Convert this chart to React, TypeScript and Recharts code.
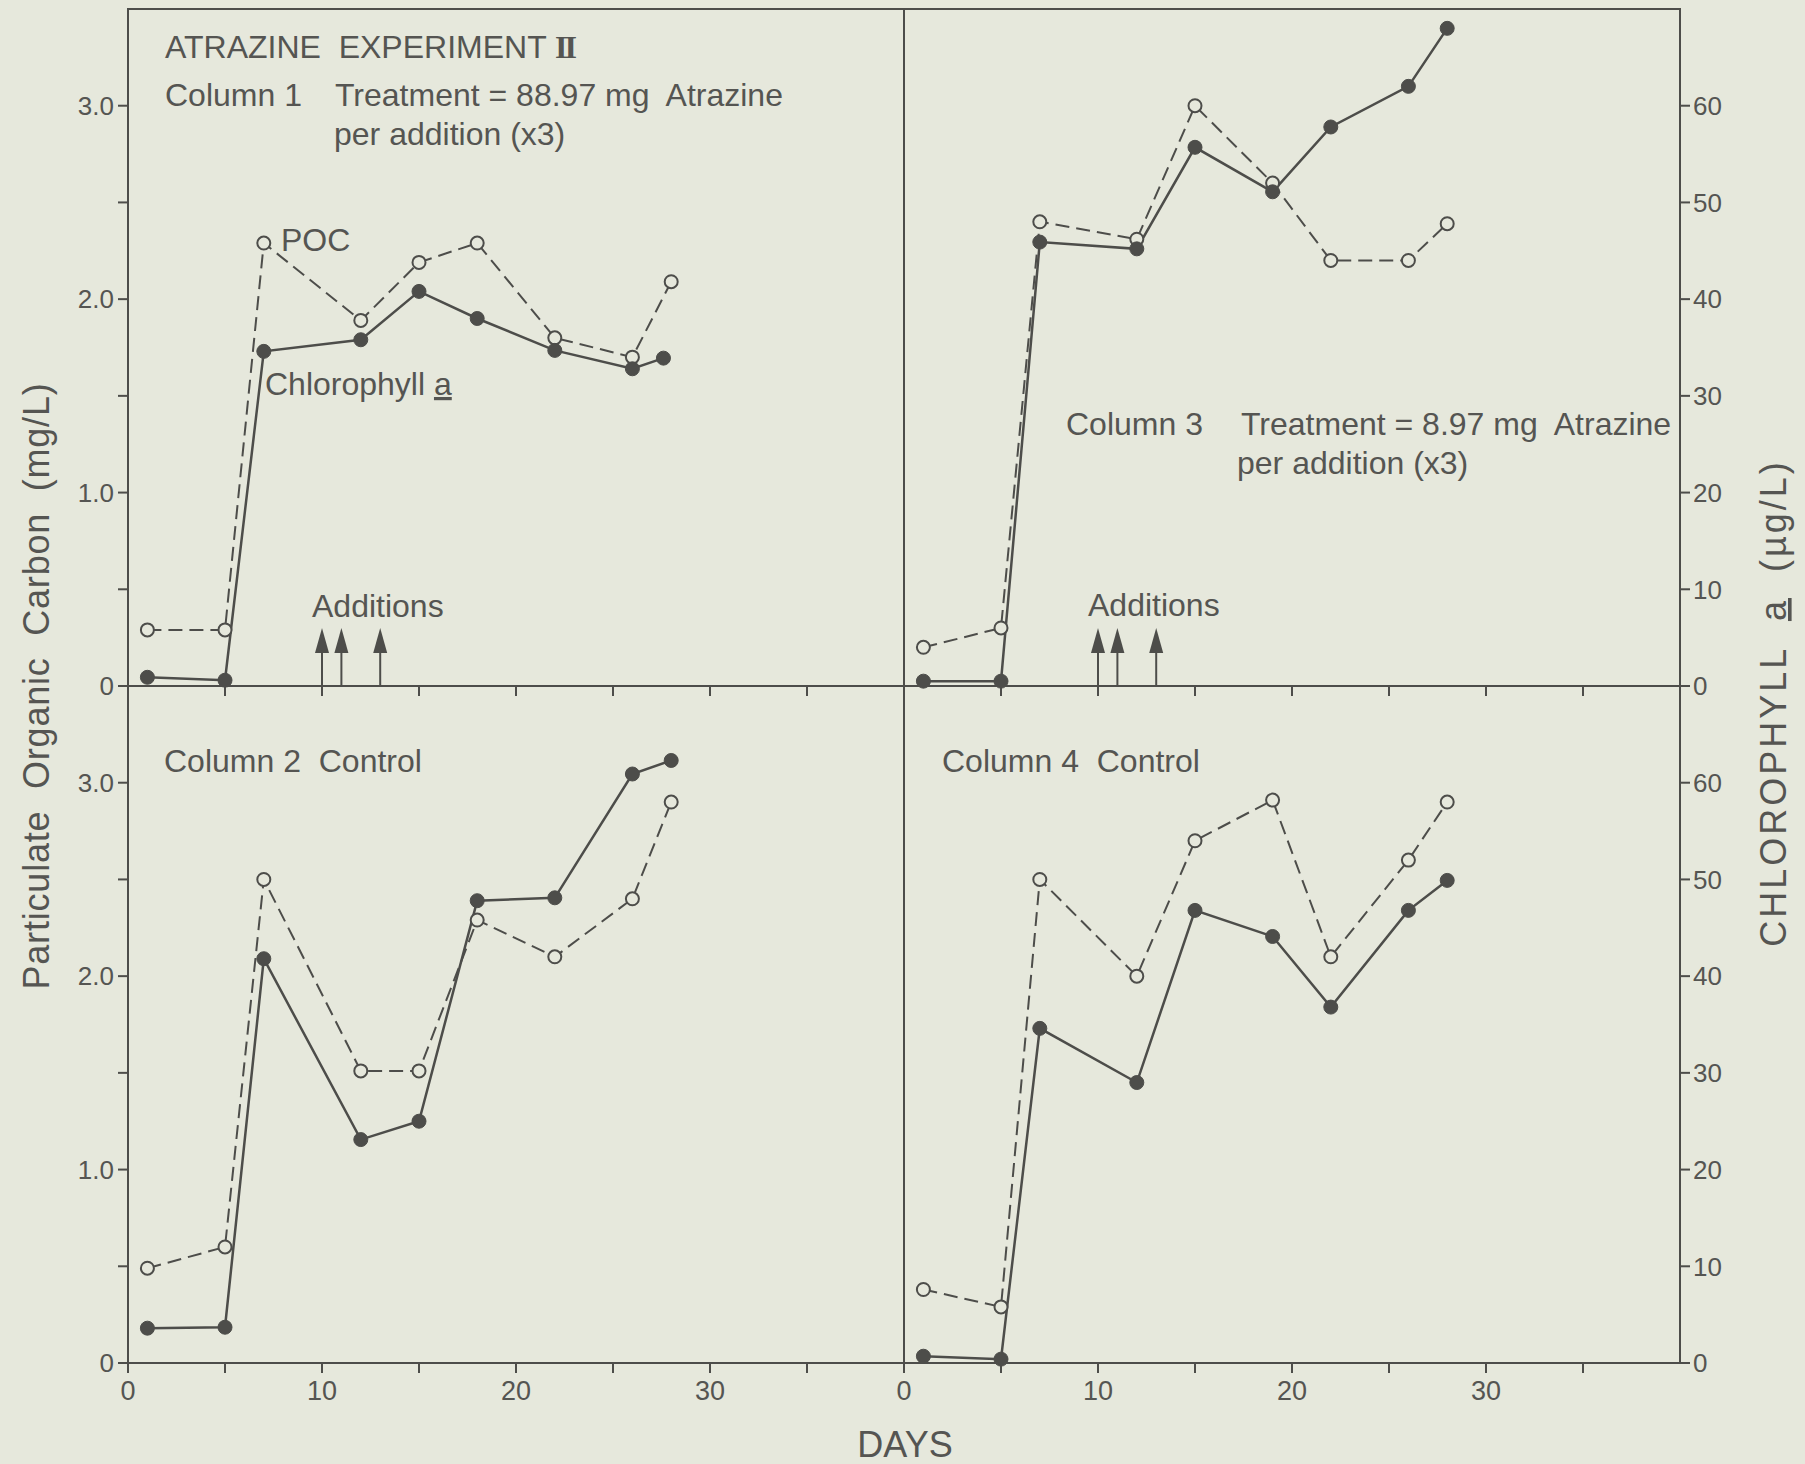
import { LineChart, Line, XAxis, YAxis, ReferenceArea, ReferenceLine } from 'recharts'

// sampling days (from the start of the experiment)
const daysA = [1, 5, 7, 12, 15, 18, 22, 26, 28]
const daysB = [1, 5, 7, 12, 15, 19, 22, 26, 28]
const col1ChlDays = [1, 5, 7, 12, 15, 18, 22, 26, 27.6]

// POC in mg/L, chlorophyll a in ug/L
const col1Poc = [0.29, 0.29, 2.29, 1.89, 2.19, 2.29, 1.8, 1.7, 2.09]
const col1Chl = [0.9, 0.6, 34.6, 35.8, 40.8, 38.0, 34.7, 32.8, 33.9]
const col2Poc = [0.49, 0.6, 2.5, 1.51, 1.51, 2.29, 2.1, 2.4, 2.9]
const col2Chl = [3.6, 3.7, 41.8, 23.1, 25.0, 47.8, 48.1, 60.9, 62.3]
const col3Poc = [0.2, 0.3, 2.4, 2.31, 3.0, 2.6, 2.2, 2.2, 2.39]
const col3Chl = [0.5, 0.5, 45.9, 45.2, 55.7, 51.1, 57.8, 62.0, 68.0]
const col4Poc = [0.38, 0.29, 2.5, 2.0, 2.7, 2.91, 2.1, 2.6, 2.9]
const col4Chl = [0.7, 0.4, 34.6, 29.0, 46.8, 44.1, 36.8, 46.8, 49.9]

const additionDays = [10, 11, 13]
const arrowTop = 0.3

const dayTicks = [0, 5, 10, 15, 20, 25, 30, 35]
const pocTicks = [0, 0.5, 1, 1.5, 2, 2.5, 3]
const chlTicks = [0, 10, 20, 30, 40, 50, 60]

const INK = '#4d4d4a'
const TEXT = '#555552'
const BG = '#e6e8dc'
const FONT = '"Liberation Sans", Arial, Helvetica, sans-serif'

const PLOT_W = 776
const PLOT_H = 677
const AXIS_W = 90
const GAP = 10
const X_AXIS_H = 60

const rows = (d: number[], v: number[]) => d.map((day, i) => ({ day, value: v[i] }))

function ArrowShape(props: any) {
  const { x1, y1, y2 } = props
  const yBase = Math.max(y1, y2)
  const yTip = Math.min(y1, y2)
  return (
    <g>
      <line x1={x1} y1={yBase} x2={x1} y2={yTip + 12} stroke={INK} strokeWidth={2} />
      <polygon points={`${x1},${yTip} ${x1 - 7},${yTip + 25} ${x1 + 7},${yTip + 25}`} fill={INK} />
    </g>
  )
}

const openDot = (p: any) => (
  <circle key={p.key ?? `o${p.index}`} cx={p.cx} cy={p.cy} r={6.5} fill={BG} stroke={INK} strokeWidth={2} />
)
const filledDot = (p: any) => (
  <circle key={p.key ?? `f${p.index}`} cx={p.cx} cy={p.cy} r={7} fill={INK} stroke={INK} strokeWidth={1} />
)

interface PanelProps {
  left: number
  top: number
  side: 'left' | 'right'
  dayLabels: boolean
  additions: boolean
  pocDays: number[]
  poc: number[]
  chlDays: number[]
  chl: number[]
}

function Panel({ left, top, side, dayLabels, additions, pocDays, poc, chlDays, chl }: PanelProps) {
  const isLeft = side === 'left'
  const margin = { top: GAP, bottom: 0, left: isLeft ? 0 : GAP, right: isLeft ? GAP : 0 }
  const tickStyle = { fill: TEXT, fontSize: 26, fontFamily: FONT }
  return (
    <div style={{ position: 'absolute', left: isLeft ? left - AXIS_W : left - GAP, top: top - GAP }}>
      <LineChart width={AXIS_W + PLOT_W + GAP} height={GAP + PLOT_H + X_AXIS_H} margin={margin}>
        <XAxis
          type="number"
          dataKey="day"
          domain={[0, 40]}
          ticks={dayTicks}
          height={X_AXIS_H}
          axisLine={false}
          tickSize={10}
          tickMargin={8}
          tickLine={{ stroke: INK, strokeWidth: 2 }}
          tick={{ ...tickStyle, fontSize: 27 }}
          tickFormatter={v => (dayLabels && v % 10 === 0 ? String(v) : '')}
        />
        <YAxis
          yAxisId="poc"
          orientation="left"
          domain={[0, 3.5]}
          ticks={pocTicks}
          hide={!isLeft}
          width={AXIS_W}
          axisLine={false}
          tickSize={10}
          tickMargin={4}
          tickLine={{ stroke: INK, strokeWidth: 2 }}
          tick={tickStyle}
          tickFormatter={v => (v === 0 ? '0' : Number.isInteger(v) ? v.toFixed(1) : '')}
        />
        <YAxis
          yAxisId="chl"
          orientation="right"
          domain={[0, 70]}
          ticks={chlTicks}
          hide={isLeft}
          width={AXIS_W}
          axisLine={false}
          tickSize={10}
          tickMargin={3}
          tickLine={{ stroke: INK, strokeWidth: 2 }}
          tick={tickStyle}
        />
        <ReferenceArea yAxisId="poc" x1={0} x2={40} y1={0} y2={3.5} fill="none" stroke={INK} strokeWidth={2} />
        {additions &&
          additionDays.map(d => (
            <ReferenceLine
              key={d}
              yAxisId="poc"
              segment={[{ x: d, y: 0 }, { x: d, y: arrowTop }]}
              shape={ArrowShape}
            />
          ))}
        <Line
          yAxisId="poc"
          data={rows(pocDays, poc)}
          dataKey="value"
          stroke={INK}
          strokeWidth={2}
          strokeDasharray="14 7"
          dot={openDot}
          isAnimationActive={false}
        />
        <Line
          yAxisId="chl"
          data={rows(chlDays, chl)}
          dataKey="value"
          stroke={INK}
          strokeWidth={2.5}
          dot={filledDot}
          isAnimationActive={false}
        />
      </LineChart>
    </div>
  )
}

export default function App() {
  const t = { fill: TEXT, fontFamily: FONT, fontSize: 32, style: { whiteSpace: 'pre' as const } }
  return (
    <div style={{ position: 'absolute', left: 0, top: 0, width: 1805, height: 1464, background: BG, fontFamily: FONT }}>
      <Panel left={128} top={9} side="left" dayLabels={false} additions pocDays={daysA} poc={col1Poc} chlDays={col1ChlDays} chl={col1Chl} />
      <Panel left={904} top={9} side="right" dayLabels={false} additions pocDays={daysB} poc={col3Poc} chlDays={daysB} chl={col3Chl} />
      <Panel left={128} top={686} side="left" dayLabels additions={false} pocDays={daysA} poc={col2Poc} chlDays={daysA} chl={col2Chl} />
      <Panel left={904} top={686} side="right" dayLabels additions={false} pocDays={daysB} poc={col4Poc} chlDays={daysB} chl={col4Chl} />
      <svg width={1805} height={1464} style={{ position: 'absolute', left: 0, top: 0, pointerEvents: 'none' }}>
        <text x={165} y={58} {...t}>
          ATRAZINE  EXPERIMENT{' '}
          <tspan fontFamily='"Liberation Serif", "DejaVu Serif", serif' fontWeight="bold" letterSpacing={-3}>
            II
          </tspan>
        </text>
        <text x={165} y={106} {...t}>Column 1</text>
        <text x={335} y={106} {...t}>Treatment = 88.97 mg  Atrazine</text>
        <text x={334} y={145} {...t}>per addition (x3)</text>
        <text x={281} y={251} {...t}>POC</text>
        <text x={265} y={395} {...t}>
          Chlorophyll <tspan textDecoration="underline">a</tspan>
        </text>
        <text x={312} y={617} {...t}>Additions</text>
        <text x={1066} y={435} {...t}>Column 3</text>
        <text x={1241} y={435} {...t}>Treatment = 8.97 mg  Atrazine</text>
        <text x={1237} y={474} {...t}>per addition (x3)</text>
        <text x={1088} y={616} {...t}>Additions</text>
        <text x={164} y={772} {...t}>Column 2  Control</text>
        <text x={942} y={772} {...t}>Column 4  Control</text>
        <text x={905} y={1457} {...t} fontSize={36} textAnchor="middle">DAYS</text>
        <text
          transform="translate(49,686) rotate(-90)"
          {...t}
          fontSize={36}
          letterSpacing={0.8}
          textAnchor="middle"
        >
          Particulate  Organic  Carbon  (mg/L)
        </text>
        <text
          transform="translate(1786,703) rotate(-90)"
          {...t}
          fontSize={36}
          letterSpacing={3}
          textAnchor="middle"
        >
          CHLOROPHYLL  <tspan textDecoration="underline">a</tspan>  (µg/L)
        </text>
      </svg>
    </div>
  )
}
